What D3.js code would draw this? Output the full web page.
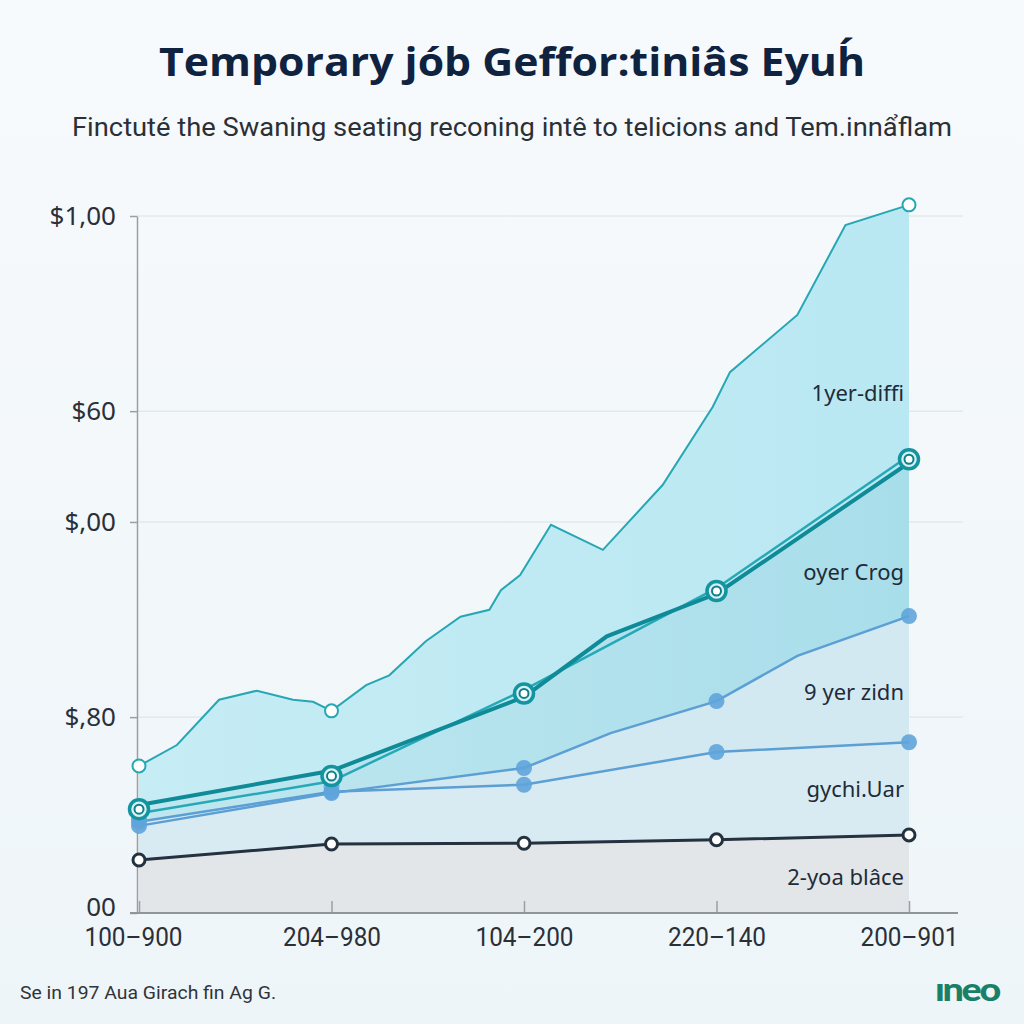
<!DOCTYPE html>
<html><head><meta charset="utf-8">
<script src="https://cdn.jsdelivr.net/npm/d3@7"></script>
<style>
html,body{margin:0;padding:0;background:#f6f9fb;}
svg{display:block;}
</style></head>
<body>
<svg id="c" width="1024" height="1024"></svg>
<script>
// ---- data ----
const categories = ["100–900","204–980","104–200","220–140","200–901"];
const yTickValues = [0, 28.1, 56.1, 72.0, 100];
const yTickLabels = ["00","$,80","$,00","$60","$1,00"];
const seriesNames = ["1yer-diffi","oyer Crog","9 yer zidn","gychi.Uar","2-yoa blâce"];
// x given as category index (fractional = between categories)
const topX = [0,0.197,0.416,0.613,0.80,0.904,1,1.18,1.30,1.49,1.67,1.82,1.88,1.98,2.14,2.41,2.72,2.98,3.07,3.42,3.67,4];
const topY = [21.1,24.1,30.6,31.9,30.6,30.3,29.0,32.7,34.1,39.0,42.5,43.5,46.3,48.5,55.7,52.1,61.4,72.6,77.6,85.8,98.7,101.6];
const topMarkers = [0,1,4];
const crogX = [0,1,2,2.43,3,4];
const crogY = [15.5,20.4,31.0,39.7,45.8,64.6];
const crogThinY = [14.3,18.9,32.0,46.6,65.6];
const zidnX = [0,1,2,2.45,3,3.42,4];
const zidnY = [12.5,17.2,20.8,25.8,30.4,36.9,42.6];
const uarY = [13.1,17.4,18.4,23.1,24.5];
const blaceY = [7.6,9.9,10.0,10.5,11.2];
const labelY = [73.5, 47.8, 30.6, 16.6, 4.0];

// ---- layout ----
const svg = d3.select("#c");
const L = 139, R = 909, T = 216, B = 913;
const x = d3.scaleLinear().domain([0,4]).range([L,R]);
const y = d3.scaleLinear().domain([0,100]).range([B,T]);

// background gradient
const defs = svg.append("defs");
const bg = defs.append("linearGradient").attr("id","bg").attr("x1",0).attr("y1",0).attr("x2",0).attr("y2",1);
bg.append("stop").attr("offset",0).attr("stop-color","#f7fafc");
bg.append("stop").attr("offset",1).attr("stop-color","#eef5f8");
svg.append("rect").attr("width",1024).attr("height",1024).attr("fill","url(#bg)");

// title
svg.append("text").attr("x",512).attr("y",76).attr("text-anchor","middle")
  .attr("font-family","Open Sans, sans-serif").attr("font-weight",700).attr("font-size",39)
  .attr("fill","#0f2340").attr("textLength",706).attr("lengthAdjust","spacingAndGlyphs")
  .text("Temporary jób Geffor:tiniâs Eyuh́");
svg.append("text").attr("x",512).attr("y",136).attr("text-anchor","middle")
  .attr("font-family","Roboto, sans-serif").attr("font-size",25)
  .attr("fill","#2b2f36").attr("textLength",880).attr("lengthAdjust","spacingAndGlyphs")
  .text("Finctuté the Swaning seating reconing intê to telicions and Tem.innẩflam");

// gridlines
svg.append("g").selectAll("line").data(yTickValues.slice(1)).join("line")
  .attr("x1",L-2).attr("x2",963).attr("y1",d=>y(d)).attr("y2",d=>y(d))
  .attr("stroke","#e3e8ec").attr("stroke-width",1.5);

// areas
const ptsTop = topX.map((v,i)=>[v,topY[i]]);
const ptsCrog = crogX.map((v,i)=>[v,crogY[i]]);
const ptsCrogThin = crogThinY.map((v,i)=>[i,v]);
const ptsZidn = zidnX.map((v,i)=>[v,zidnY[i]]);
const ptsUar = uarY.map((v,i)=>[i,v]);
const ptsBlace = blaceY.map((v,i)=>[i,v]);

const area = d3.area().x(d=>x(d[0])).y0(y(0)).y1(d=>y(d[1]));
const line = d3.line().x(d=>x(d[0])).y(d=>y(d[1]));

const g1 = defs.append("linearGradient").attr("id","g1").attr("x1",0).attr("y1",0).attr("x2",1).attr("y2",0);
g1.append("stop").attr("offset",0).attr("stop-color","#c6ecf4");
g1.append("stop").attr("offset",1).attr("stop-color","#b9e8f2");
const g2 = defs.append("linearGradient").attr("id","g2").attr("x1",0).attr("y1",0).attr("x2",1).attr("y2",0);
g2.append("stop").attr("offset",0).attr("stop-color","#c0e7f0");
g2.append("stop").attr("offset",1).attr("stop-color","#a8deea");

svg.append("path").attr("d",area(ptsTop)).attr("fill","url(#g1)");
svg.append("path").attr("d",area(ptsCrog)).attr("fill","url(#g2)");
svg.append("path").attr("d",area(ptsZidn)).attr("fill","#d3e9f1");
svg.append("path").attr("d",area(ptsUar)).attr("fill","#d9ebf2");
svg.append("path").attr("d",area(ptsBlace)).attr("fill","#e2e6e9");

// axes
const yAxis = d3.axisLeft(y).tickValues(yTickValues).tickFormat((d,i)=>yTickLabels[i]).tickSize(7).tickSizeOuter(0);
const ya = svg.append("g").attr("transform",`translate(${L-2},0)`).call(yAxis);
ya.select(".domain").attr("stroke","#9a9fa5").attr("stroke-width",1.5);
ya.selectAll(".tick line").attr("stroke","#9a9fa5").attr("stroke-width",1.5);
ya.selectAll(".tick text").attr("font-family","Noto Sans, sans-serif").attr("font-size",26)
  .attr("fill","#2a2f38").attr("x",-21);
ya.select(".tick:first-of-type text").attr("dy","0.1em");

const xb = d3.scaleLinear().domain([0,4]).range([L,R]);
const xAxis = d3.axisBottom(xb).tickValues([0,1,2,3,4]).tickFormat((d,i)=>categories[i]).tickSize(12).tickSizeOuter(0);
const xa = svg.append("g").attr("transform",`translate(0,${B})`).call(xAxis);
xa.select(".domain").remove();
svg.append("line").attr("x1",130).attr("x2",958).attr("y1",B).attr("y2",B).attr("stroke","#8f959c").attr("stroke-width",1.8);
xa.selectAll(".tick line").attr("stroke","#9a9fa5").attr("stroke-width",1.5).attr("y1",-12).attr("y2",0);
xa.selectAll(".tick text").attr("font-family","Roboto, sans-serif").attr("font-size",25)
  .attr("fill","#2a2f38").attr("y",15).attr("dy","0.71em")
  .attr("textLength",98).attr("lengthAdjust","spacingAndGlyphs");
xa.select(".tick:first-of-type text").attr("dx",-6);

// lines
svg.append("path").attr("d",line(ptsTop)).attr("fill","none").attr("stroke","#27a7b4").attr("stroke-width",2);
svg.append("path").attr("d",line(ptsUar)).attr("fill","none").attr("stroke","#5b9fd4").attr("stroke-width",2.5);
svg.append("path").attr("d",line(ptsZidn)).attr("fill","none").attr("stroke","#5b9fd4").attr("stroke-width",2.5);
svg.append("path").attr("d",line(ptsCrogThin)).attr("fill","none").attr("stroke","#26a9b6").attr("stroke-width",2.5);
svg.append("path").attr("d",line(ptsCrog)).attr("fill","none").attr("stroke","#0f8b98").attr("stroke-width",4);
svg.append("path").attr("d",line(ptsBlace)).attr("fill","none").attr("stroke","#24313f").attr("stroke-width",3);

// markers
const blueDots = [ptsZidn.filter(d=>Number.isInteger(d[0])), ptsUar].flat();
svg.append("g").selectAll("circle").data(blueDots).join("circle")
  .attr("cx",d=>x(d[0])).attr("cy",d=>y(d[1])).attr("r",8).attr("fill","#5fa4da").attr("opacity",0.9);
// blue shadow dots under teal markers
svg.append("g").selectAll("circle").data(ptsCrogThin).join("circle")
  .attr("cx",d=>x(d[0])).attr("cy",d=>y(d[1])+5).attr("r",8).attr("fill","#5fa4da").attr("opacity",0.8);
// teal double-ring markers
const crogM = crogX.map((v,i)=>[v,(crogY[i]+ (Number.isInteger(v)? crogThinY[v]:crogY[i]))/2]).filter(d=>Number.isInteger(d[0]));
svg.append("g").selectAll("circle").data(crogM).join("circle")
  .attr("cx",d=>x(d[0])).attr("cy",d=>y(d[1])).attr("r",9.5).attr("fill","#d6f1f5").attr("stroke","#13949f").attr("stroke-width",3.5);
svg.append("g").selectAll("circle").data(crogM).join("circle")
  .attr("cx",d=>x(d[0])).attr("cy",d=>y(d[1])).attr("r",4.5).attr("fill","#ffffff").attr("stroke","#0e7f8a").attr("stroke-width",2);
// top hollow markers
svg.append("g").selectAll("circle").data(topMarkers.map(i=>[i, topY[topX.indexOf(i)]])).join("circle")
  .attr("cx",d=>x(d[0])).attr("cy",d=>y(d[1])).attr("r",6.5).attr("fill","#ffffff").attr("stroke","#27a7b4").attr("stroke-width",2);
// dark markers
svg.append("g").selectAll("circle").data(ptsBlace).join("circle")
  .attr("cx",d=>x(d[0])).attr("cy",d=>y(d[1])).attr("r",6).attr("fill","#ffffff").attr("stroke","#24313f").attr("stroke-width",3);

// series labels
svg.append("g").selectAll("text").data(seriesNames).join("text")
  .attr("x",904).attr("y",(d,i)=>y(labelY[i])).attr("text-anchor","end")
  .attr("font-family","Noto Sans, sans-serif").attr("font-size",22).attr("fill","#1f2b38")
  .text(d=>d);

// footer
svg.append("text").attr("x",20).attr("y",999).attr("font-family","Roboto, sans-serif").attr("font-size",19)
  .attr("fill","#30343a").attr("textLength",256).attr("lengthAdjust","spacingAndGlyphs")
  .text("Se in 197 Aua Girach fin Ag G.");
svg.append("text").attr("x",999).attr("y",1001).attr("text-anchor","end").attr("font-family","Lato, sans-serif")
  .attr("font-weight",900).attr("font-size",33).attr("fill","#1a7f66").attr("letter-spacing",-2)
  .attr("textLength",64).attr("lengthAdjust","spacingAndGlyphs")
  .text("ıneo");
</script>
</body></html>
